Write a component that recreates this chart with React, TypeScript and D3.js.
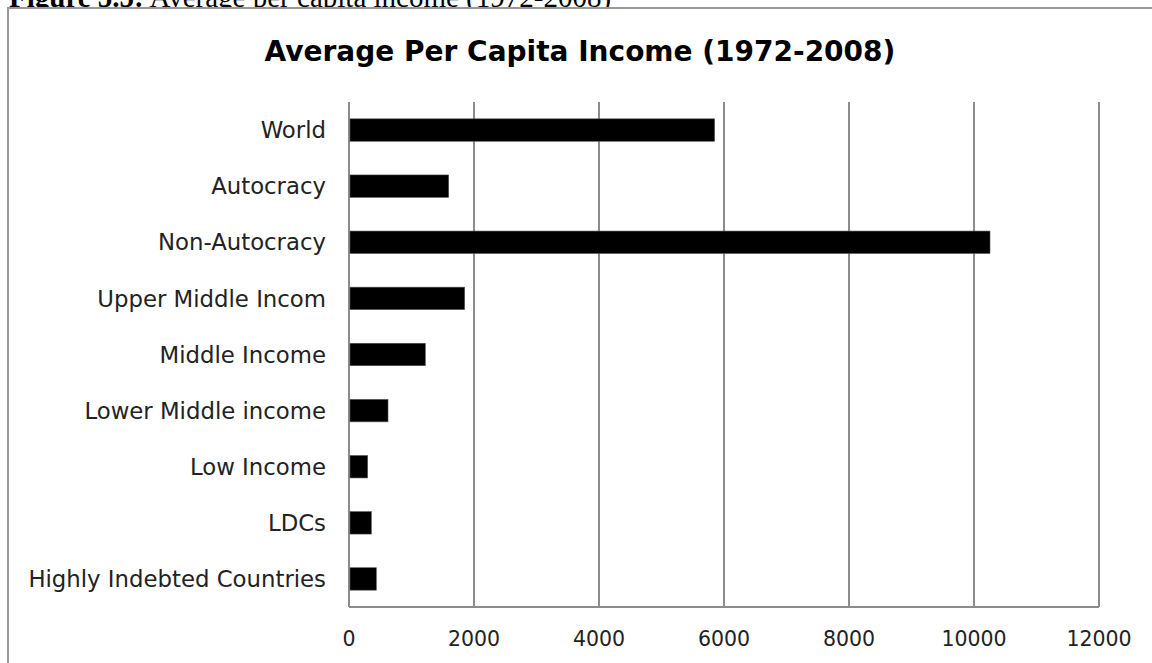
import React from "react";
import * as d3 from "d3";

const categories = [
  "World",
  "Autocracy",
  "Non-Autocracy",
  "Upper Middle Incom",
  "Middle Income",
  "Lower Middle income",
  "Low Income",
  "LDCs",
  "Highly Indebted Countries",
];
const values = [5850, 1595, 10256, 1851, 1221, 624, 299, 357, 437];
const tickValues = [0, 2000, 4000, 6000, 8000, 10000, 12000];
const chartTitle = "Average Per Capita Income (1972-2008)";
const captionLead = "Figure 5.5:";
const captionRest = " Average per capita income (1972-2008)";

export default function App() {
  const W = 1152;
  const H = 663;
  const x = d3.scaleLinear().domain([0, 12000]).range([349, 1099]);
  const y = d3
    .scaleBand<string>()
    .domain(categories)
    .range([102, 607])
    .paddingInner(0.6)
    .paddingOuter(0.3);
  const labelFont = "'DejaVu Sans', sans-serif";
  const grid = "#8c8c8c";
  return (
    <svg
      width={W}
      height={H}
      style={{ position: "absolute", left: 0, top: 0, background: "#fff" }}
    >
      <rect x={0} y={0} width={W} height={H} fill="#fff" />
      <text
        x={9}
        y={7}
        fontFamily="'Liberation Serif', 'Times New Roman', serif"
        fontSize={29}
        fill="#000"
      >
        <tspan fontWeight="bold">{captionLead}</tspan>
        <tspan>{captionRest}</tspan>
      </text>
      <rect x={8} y={8} width={W + 20} height={H + 20} fill="#fff" stroke="#999" strokeWidth={2} />
      <text
        x={580}
        y={61}
        textAnchor="middle"
        fontFamily={labelFont}
        fontWeight="bold"
        fontSize={28}
        fill="#000"
      >
        {chartTitle}
      </text>
      {tickValues.map((t) => (
        <line key={"g" + t} x1={x(t)} x2={x(t)} y1={102} y2={607} stroke={grid} strokeWidth={2} />
      ))}
      <line x1={x(0)} x2={x(12000)} y1={607} y2={607} stroke={grid} strokeWidth={2} />
      {categories.map((c, i) => (
        <rect
          key={c}
          x={x(0) + 1}
          y={y(c)}
          width={x(values[i]) - x(0) - 1}
          height={y.bandwidth()}
          fill="#000"
          stroke="#555"
          strokeWidth={0.6}
        />
      ))}
      {categories.map((c) => (
        <text
          key={"l" + c}
          x={326}
          y={(y(c) as number) + y.bandwidth() / 2}
          dy="0.36em"
          textAnchor="end"
          fontFamily={labelFont}
          fontSize={22.8}
          fill="#222"
        >
          {c}
        </text>
      ))}
      {tickValues.map((t) => (
        <text
          key={"t" + t}
          x={x(t)}
          y={646}
          textAnchor="middle"
          fontFamily={labelFont}
          fontSize={20.5}
          fill="#222"
        >
          {t}
        </text>
      ))}
    </svg>
  );
}
